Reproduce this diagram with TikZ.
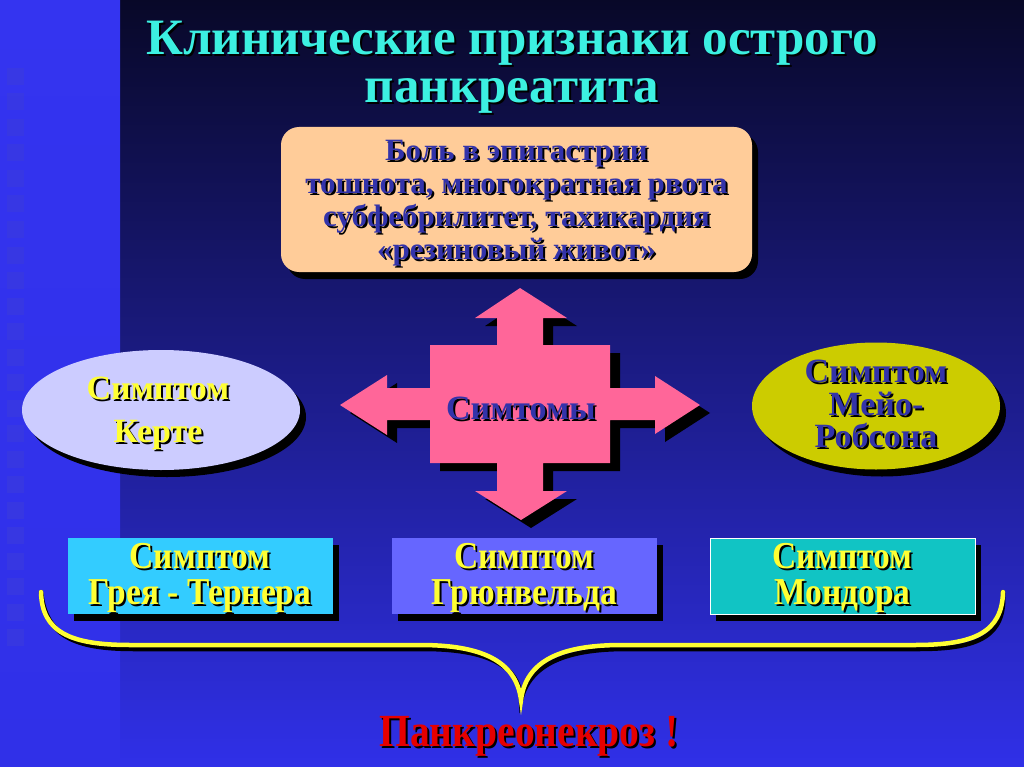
\documentclass[tikz,border=0pt]{standalone}
\usepackage{fontspec}
\setmainfont{Liberation Serif}
\usetikzlibrary{shapes.geometric,shadows}
\definecolor{navytop}{RGB}{8,8,40}
\definecolor{navymid}{RGB}{26,26,140}
\definecolor{bluebot}{RGB}{48,48,232}
\definecolor{striptop}{RGB}{52,52,240}
\definecolor{stripmid}{RGB}{18,18,88}
\definecolor{sq}{RGB}{60,60,220}
\definecolor{titlecyan}{RGB}{60,240,225}
\definecolor{peach}{RGB}{255,204,153}
\definecolor{pinkx}{RGB}{255,102,153}
\definecolor{lav}{RGB}{204,204,255}
\definecolor{olive}{RGB}{204,204,0}
\definecolor{cyanbox}{RGB}{51,204,255}
\definecolor{violetbox}{RGB}{102,102,255}
\definecolor{tealbox}{RGB}{17,196,196}
\definecolor{dblue}{RGB}{51,51,170}
\definecolor{ytext}{RGB}{255,255,51}
\definecolor{rtext}{RGB}{230,0,0}
\newcommand\shtext[4]{%
  \node[#3,text=black,xshift=2pt,yshift=-2pt] at (#2) {#4};
  \node[#3] (#1) at (#2) {#4};}
\begin{document}
\begin{tikzpicture}[x=1pt,y=-1pt,
  txt/.style={inner sep=0pt,align=center,font=\bfseries},
  boxshadow/.style={drop shadow={shadow xshift=6pt,shadow yshift=-7pt,opacity=1,fill=black}},
  ttl/.style={txt,text=titlecyan,font=\fontsize{51}{56}\selectfont\bfseries},
  peachtxt/.style={txt,text=dblue,font=\fontsize{31}{33}\selectfont\bfseries},
  midtxt/.style={txt,text=dblue,font=\fontsize{34}{32.5}\selectfont\bfseries},
  ytxt/.style={txt,text=ytext,font=\fontsize{34}{43}\selectfont\bfseries},
  condtxt/.style={txt,text=ytext,anchor=base,text height=26pt,text depth=0pt,font=\fontsize{38}{36}\selectfont\bfseries},
  bbox/.style={draw=none,minimum width=265pt,minimum height=76pt,boxshadow}]
\useasboundingbox (0,0) rectangle (1024,767);
% background
\shade[top color=navytop,middle color=navymid,bottom color=bluebot] (120,0) rectangle (1024,767);
\shade[top color=striptop,middle color=stripmid,bottom color=bluebot] (0,0) rectangle (120,767);
\foreach \i in {0,...,22} {
  \fill[sq,opacity=0.55] (7,{68+25.5*\i}) rectangle (24,{85+25.5*\i});
}
% title
\shtext{t1}{512,43}{ttl}{Клинические признаки острого}
\shtext{t2}{512,96}{ttl}{панкреатита}
% top box
\node[draw=none,fill=peach,rounded corners=18pt,minimum width=471pt,minimum height=145pt,boxshadow] (top) at (516.5,199.5) {};
\shtext{topt}{516.5,203.5}{peachtxt}{Боль в эпигастрии\\тошнота, многократная рвота\\субфебрилитет, тахикардия\\«резиновый живот»}
% cross
\path[fill=pinkx,drop shadow={shadow xshift=10pt,shadow yshift=-8pt,opacity=1,fill=black}]
 (520,288) -- (567,318) -- (543,318) -- (543,345) -- (610,345) -- (610,388) -- (655,388) -- (655,376) -- (700,405) -- (655,434) -- (655,420) -- (610,420) -- (610,463) -- (543,463) -- (543,491) -- (567,491) -- (521,520) -- (475,491) -- (497,491) -- (497,463) -- (430,463) -- (430,420) -- (387,420) -- (387,435) -- (340,405) -- (387,375) -- (387,388) -- (430,388) -- (430,345) -- (497,345) -- (497,318) -- (475,318) -- cycle;
\shtext{sym}{521,408}{midtxt}{Симтомы}
% ellipses
\node[ellipse,draw=none,fill=lav,minimum width=278pt,minimum height=120pt,boxshadow] (kerte) at (161,410) {};
\shtext{kertet}{158,413}{ytxt}{Симптом\\Керте}
\node[ellipse,draw=none,fill=olive,minimum width=248pt,minimum height=127pt,boxshadow] (mayo) at (876,406) {};
\shtext{mayot}{876,404}{midtxt}{Симптом\\Мейо-\\Робсона}
% bottom boxes
\node[bbox,fill=cyanbox] (b1) at (200,576) {};
\node[bbox,fill=violetbox] (b2) at (524.5,576) {};
\node[bbox,fill=tealbox,draw=white,line width=1pt] (b3) at (842.5,576) {};
\shtext{b1a}{200,568}{condtxt}{\scalebox{0.88}[1]{Симптом}}
\shtext{b1b}{200,604}{condtxt}{\scalebox{0.88}[1]{Грея - Тернера}}
\shtext{b2a}{524.5,568}{condtxt}{\scalebox{0.88}[1]{Симптом}}
\shtext{b2b}{524.5,604}{condtxt}{\scalebox{0.88}[1]{Грюнвельда}}
\shtext{b3a}{842.5,568}{condtxt}{\scalebox{0.88}[1]{Симптом}}
\shtext{b3b}{842.5,604}{condtxt}{\scalebox{0.88}[1]{Мондора}}
% brace
\coordinate (bl) at (41,592);
\coordinate (br) at (1003,592);
\coordinate (tip) at (521,700);
\foreach \dx/\dy/\col in {4/4/black,0/0/ytext} {
\begin{scope}[shift={(\dx,\dy)}]
\draw[\col,line width=4.5pt,line cap=round]
  (bl) .. controls (42,632) and (70,645) .. (130,645) -- (420,645)
  .. controls (480,645) and (516,660) .. (tip)
  .. controls (526,660) and (562,645) .. (622,645) -- (915,645)
  .. controls (975,645) and (1002,632) .. (br);
\end{scope}}
% result
\shtext{res}{529,736}{txt,text=rtext,font=\fontsize{46}{48}\selectfont\bfseries}{\scalebox{0.86}[1]{Панкреонекроз !}}
\end{tikzpicture}
\end{document}
